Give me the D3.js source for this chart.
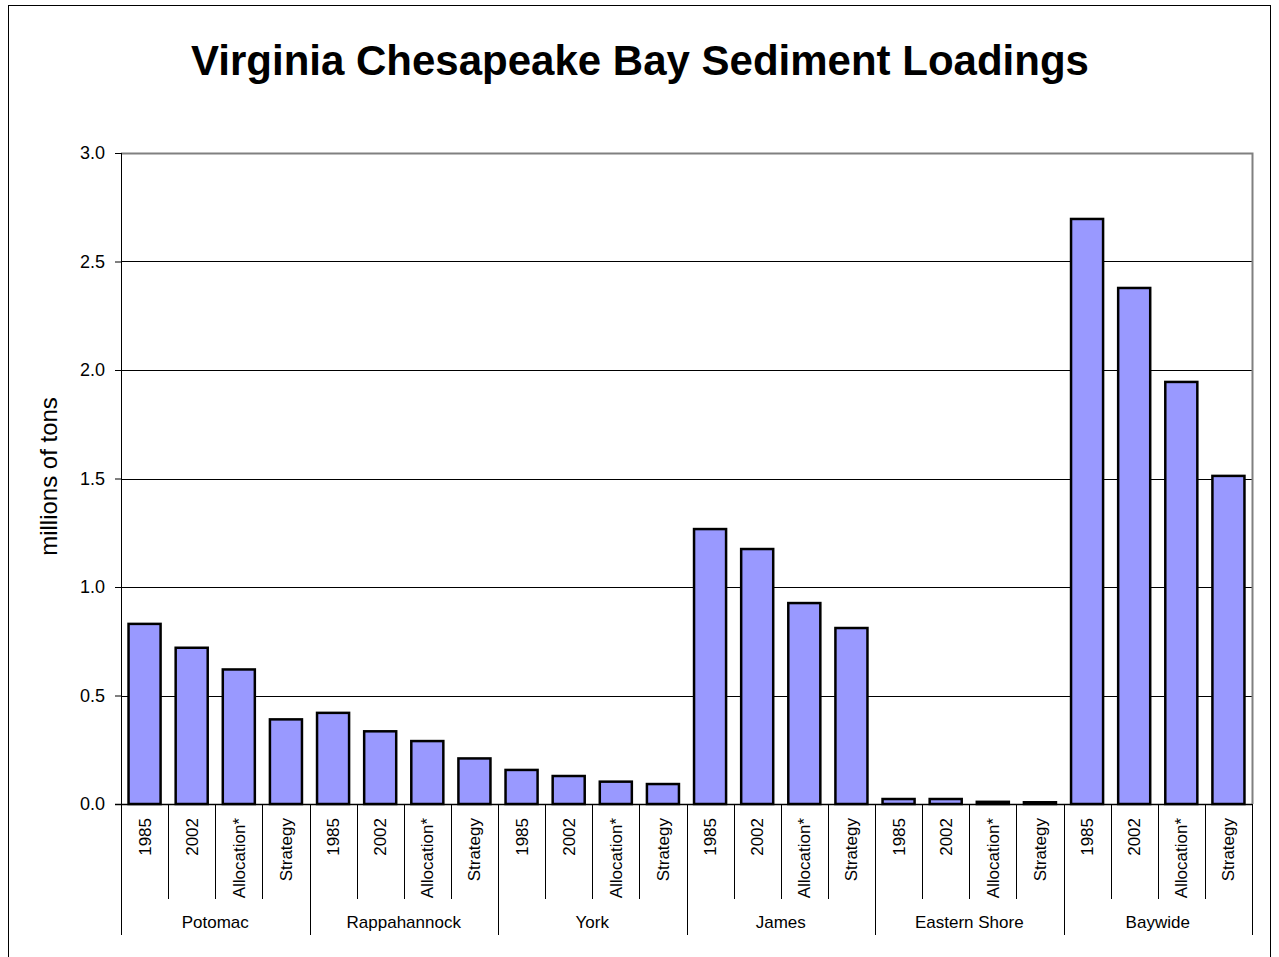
<!DOCTYPE html>
<html>
<head>
<meta charset="utf-8">
<script src="https://cdn.jsdelivr.net/npm/d3@7"></script>
<style>
  body { margin: 0; background: #fff; }
  svg { font-family: Arial, "Liberation Sans", sans-serif; }
</style>
</head>
<body>
<div class="plots"></div>
<script>
var groups = ["Potomac", "Rappahannock", "York", "James", "Eastern Shore", "Baywide"];
var scenarios = ["1985", "2002", "Allocation*", "Strategy"];
// millions of tons, one row per basin, in scenario order
var potomac = [0.83, 0.72, 0.62, 0.39];
var rappahannock = [0.42, 0.335, 0.29, 0.21];
var york = [0.157, 0.129, 0.103, 0.092];
var james = [1.267, 1.175, 0.926, 0.811];
var easternShore = [0.023, 0.023, 0.01, 0.008];
var baywide = [2.696, 2.378, 1.945, 1.512];
var yTicks = [0, 0.5, 1.0, 1.5, 2.0, 2.5, 3.0];

var series = [potomac, rappahannock, york, james, easternShore, baywide];
var data = [];
groups.forEach(function(g, i) {
  scenarios.forEach(function(s, j) {
    data.push({group: g, label: s, key: g + "|" + s, value: series[i][j]});
  });
});

var W = 1279, H = 957;
var margin = {top: 153, right: 27, bottom: 153, left: 121};
var width = W - margin.left - margin.right,
    height = H - margin.top - margin.bottom;

var svg = d3.select(".plots").append("svg")
    .attr("width", W)
    .attr("height", H);

// outer chart border
svg.append("rect")
    .attr("x", 8.5).attr("y", 5.5)
    .attr("width", 1262).attr("height", 960)
    .attr("fill", "none").attr("stroke", "#000").attr("stroke-width", 1);

svg.append("text")
    .attr("x", 640).attr("y", 75)
    .attr("text-anchor", "middle")
    .style("font-size", "42px").style("font-weight", "bold")
    .text("Virginia Chesapeake Bay Sediment Loadings");

var x = d3.scaleBand()
    .domain(data.map(function(d) { return d.key; }))
    .range([0, width])
    .paddingInner(0.32).paddingOuter(0.16);

var step = x.step();

var y = d3.scaleLinear()
    .domain([0, 3])
    .range([height, 0]);

var g = svg.append("g")
    .attr("transform", "translate(" + margin.left + "," + margin.top + ")");

// gridlines
g.selectAll(".grid").data(yTicks.filter(function(t) { return t > 0 && t < 3; }))
  .enter().append("line")
    .attr("x1", 0).attr("x2", width)
    .attr("y1", function(d) { return Math.round(y(d)) + 0.5; })
    .attr("y2", function(d) { return Math.round(y(d)) + 0.5; })
    .attr("stroke", "#000").attr("stroke-width", 1);

// top and right plot border (gray)
g.append("path")
    .attr("d", "M0," + (y(3) + 0.5) + "H" + (width + 0.5) + "V" + height)
    .attr("fill", "none").attr("stroke", "#808080").attr("stroke-width", 2);

// bars
g.selectAll(".bar").data(data)
  .enter().append("rect")
    .attr("x", function(d) { return x(d.key); })
    .attr("y", function(d) { return y(d.value); })
    .attr("width", x.bandwidth())
    .attr("height", function(d) { return y(0) - y(d.value); })
    .attr("fill", "#9999FF")
    .attr("stroke", "#000").attr("stroke-width", 2.5);

// y axis
var yAxis = g.append("g")
    .call(d3.axisLeft(y).tickValues(yTicks).tickFormat(d3.format(".1f")).tickSize(6).tickPadding(10));
yAxis.select(".domain").attr("stroke", "#000").attr("d", "M0.5," + y(0) + "V" + y(3));
yAxis.selectAll("text").style("font-size", "18px").attr("fill", "#000");
yAxis.selectAll("line").attr("stroke", "#000");

svg.append("text")
    .attr("transform", "translate(57," + (margin.top + height / 2 - 2) + ") rotate(-90)")
    .attr("text-anchor", "middle")
    .style("font-size", "24px")
    .text("millions of tons");

// x baseline
g.append("line")
    .attr("x1", -6).attr("x2", width)
    .attr("y1", height + 0.5).attr("y2", height + 0.5)
    .attr("stroke", "#000").attr("stroke-width", 1.5);

// scenario dividers
g.selectAll(".tick-in").data(data.filter(function(d, i) { return i % 4 !== 0; }))
  .enter().append("line")
    .attr("x1", function(d) { return Math.round(x(d.key) - step * 0.16) + 0.5; })
    .attr("x2", function(d) { return Math.round(x(d.key) - step * 0.16) + 0.5; })
    .attr("y1", height).attr("y2", height + 95)
    .attr("stroke", "#000").attr("stroke-width", 1);

// group dividers
var gBounds = d3.range(groups.length + 1);
g.selectAll(".tick-grp").data(gBounds)
  .enter().append("line")
    .attr("x1", function(d) { return Math.round(d * 4 * step) + 0.5; })
    .attr("x2", function(d) { return Math.round(d * 4 * step) + 0.5; })
    .attr("y1", height).attr("y2", height + 131)
    .attr("stroke", "#000").attr("stroke-width", 1);

// rotated scenario labels
g.selectAll(".xlab").data(data)
  .enter().append("text")
    .attr("transform", function(d) {
      return "translate(" + (x(d.key) + x.bandwidth() / 2 + 6) + "," + (height + 14) + ") rotate(-90)";
    })
    .attr("text-anchor", "end")
    .style("font-size", "17px")
    .text(function(d) { return d.label; });

// group labels
g.selectAll(".glab").data(groups)
  .enter().append("text")
    .attr("x", function(d, i) { return (i * 4 + 2) * step; })
    .attr("y", height + 124)
    .attr("text-anchor", "middle")
    .style("font-size", "17px")
    .text(function(d) { return d; });
</script>
</body>
</html>
